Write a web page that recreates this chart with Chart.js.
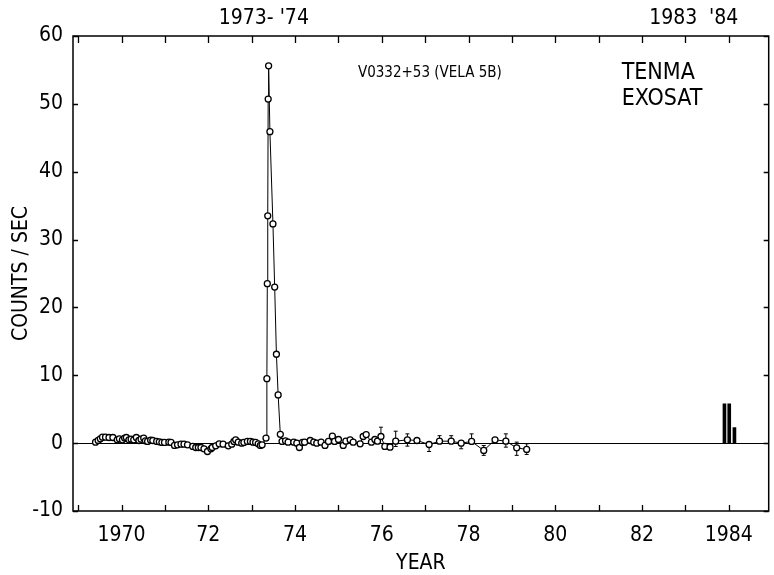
<!DOCTYPE html>
<html>
<head>
<meta charset="utf-8">
<script src="https://cdn.jsdelivr.net/npm/chart.js@4.4.0/dist/chart.umd.min.js"></script>
<style>
  html, body { margin: 0; padding: 0; background: #fff; }
  #wrap { width: 774px; height: 575px; }
</style>
</head>
<body>
<div id="wrap"><canvas id="lightCurve" width="774" height="575"></canvas></div>
<script>
/* V0332+53 (Vela 5B) light curve, counts/sec vs year */

// Vela 5B monthly points (year, counts/sec)
const years = [
  1969.40, 1969.46, 1969.51, 1969.56, 1969.63, 1969.71, 1969.80, 1969.90, 1969.95, 1970.02,
  1970.07, 1970.11, 1970.17, 1970.22, 1970.28, 1970.34, 1970.40, 1970.45, 1970.51, 1970.55,
  1970.60, 1970.67, 1970.72, 1970.81, 1970.87, 1970.93, 1970.99, 1971.09, 1971.14, 1971.22,
  1971.29, 1971.37, 1971.44, 1971.52, 1971.64, 1971.71, 1971.77, 1971.83, 1971.90, 1971.98,
  1972.06, 1972.09, 1972.17, 1972.25, 1972.34, 1972.46, 1972.54, 1972.59, 1972.63, 1972.69,
  1972.77, 1972.82, 1972.90, 1972.97, 1973.03, 1973.09, 1973.15, 1973.20, 1973.24, 1973.33,
  1973.35, 1973.36, 1973.37, 1973.38, 1973.39, 1973.42, 1973.49, 1973.53, 1973.57, 1973.61,
  1973.66, 1973.70, 1973.78, 1973.84, 1973.97, 1974.04, 1974.10, 1974.17, 1974.22, 1974.35,
  1974.43, 1974.50, 1974.60, 1974.69, 1974.77, 1974.86, 1974.91, 1975.00, 1975.11, 1975.17,
  1975.27, 1975.34, 1975.50, 1975.57, 1975.64, 1975.76, 1975.84, 1975.90, 1975.98, 1976.07,
  1976.19, 1976.32, 1976.59, 1976.81, 1977.09, 1977.33, 1977.60, 1977.83, 1978.07, 1978.35,
  1978.61, 1978.86, 1979.11, 1979.34
];
const counts = [
  0.15, 0.40, 0.64, 0.88, 0.88, 0.83, 0.83, 0.49, 0.64, 0.49,
  0.74, 0.83, 0.49, 0.59, 0.49, 0.83, 0.39, 0.59, 0.74, 0.34,
  0.25, 0.44, 0.39, 0.25, 0.20, 0.10, 0.10, 0.15, 0.10, -0.34,
  -0.25, -0.15, -0.15, -0.25, -0.49, -0.64, -0.64, -0.64, -0.83, -1.23,
  -0.83, -0.64, -0.39, -0.10, -0.15, -0.39, -0.15, 0.25, 0.49, 0.15,
  0.00, 0.10, 0.25, 0.25, 0.15, 0.10, -0.10, -0.34, -0.25, 0.74,
  9.5, 23.5, 33.5, 50.7, 55.6, 45.9, 32.3, 23.0, 13.1, 7.1,
  1.3, 0.25, 0.34, 0.15, 0.15, 0.00, -0.64, 0.10, 0.15, 0.39,
  0.15, 0.00, 0.15, -0.34, 0.25, 1.03, 0.25, 0.54, -0.34, 0.29,
  0.49, 0.15, -0.10, 0.98, 1.27, 0.15, 0.54, 0.29, 0.98, -0.49,
  -0.59, 0.29, 0.49, 0.39, -0.20, 0.29, 0.29, 0.00, 0.25, -1.08,
  0.49, 0.29, -0.69, -0.93
];

// error bars on the later points
const errYears = [1975.98, 1976.32, 1976.59, 1977.09, 1977.33, 1977.60, 1977.83, 1978.07, 1978.35, 1978.86, 1979.11, 1979.34];
const errLow   = [0.98, -0.49, -0.44, -1.23, 0.29, 0.29, -0.83, 0.25, -1.80, -0.59, -1.80, -1.67];
const errHigh  = [2.35, 1.76, 1.37, -0.20, 1.10, 1.10, 0.00, 1.37, -0.35, 1.37, 0.15, -0.10];

// Tenma / Exosat 1983-84 measurements
const tenmaYears  = [1983.90, 1984.01, 1984.13];
const tenmaCounts = [5.8, 5.8, 2.3];

// axis ticks
const yearTicks = [1969, 1970, 1971, 1972, 1973, 1974, 1975, 1976, 1977, 1978, 1979, 1980, 1981, 1982, 1983, 1984];
const yearLabels = ['', '1970', '', '72', '', '74', '', '76', '', '78', '', '80', '', '82', '', '1984'];
const topTickYears  = [1973.28, 1982.72, 1983.88];
const topTickLabels = ["1973- '74", '1983', "'84"];

const X_MIN = 1968.88;
const X_MAX = 1984.92;

const FONT = "'DejaVu Sans Condensed', 'Liberation Sans Narrow', 'DejaVu Sans', sans-serif";

const framePlugin = {
  id: 'frame',
  beforeDatasetsDraw(chart) {
    const { ctx, scales: { x, y } } = chart;
    ctx.save();
    ctx.strokeStyle = '#000';
    ctx.lineWidth = 1;
    ctx.beginPath();
    errYears.forEach((yr, i) => {
      const px = x.getPixelForValue(yr);
      const lo = y.getPixelForValue(errLow[i]);
      const hi = y.getPixelForValue(errHigh[i]);
      ctx.moveTo(px, lo);
      ctx.lineTo(px, hi);
      ctx.moveTo(px - 2, hi);
      ctx.lineTo(px + 2, hi);
      ctx.moveTo(px - 2, lo);
      ctx.lineTo(px + 2, lo);
    });
    ctx.stroke();
    ctx.restore();
  },
  afterDraw(chart) {
    const { ctx, chartArea: a, scales: { x, y } } = chart;
    ctx.save();
    ctx.strokeStyle = '#000';
    ctx.lineWidth = 1.5;
    ctx.strokeRect(a.left, a.top, a.right - a.left, a.bottom - a.top);

    // inward tick marks on all four sides
    ctx.lineWidth = 1.3;
    ctx.beginPath();
    x.ticks.forEach((t) => {
      const px = Math.round(x.getPixelForValue(t.value)) + 0.5;
      ctx.moveTo(px, a.bottom);
      ctx.lineTo(px, a.bottom - 6);
      ctx.moveTo(px, a.top);
      ctx.lineTo(px, a.top + 7);
    });
    y.ticks.forEach((t) => {
      const py = Math.round(y.getPixelForValue(t.value)) + 0.5;
      ctx.moveTo(a.left, py);
      ctx.lineTo(a.left + 5, py);
      ctx.moveTo(a.right, py);
      ctx.lineTo(a.right - 5, py);
    });
    ctx.stroke();

    // annotations
    ctx.fillStyle = '#000';
    ctx.textBaseline = 'middle';
    ctx.textAlign = 'left';
    ctx.font = '15px ' + FONT;
    ctx.fillText('V0332+53 (VELA 5B)', x.getPixelForValue(1975.45), y.getPixelForValue(54.6));
    ctx.font = '23px ' + FONT;
    ctx.fillText('TENMA', x.getPixelForValue(1981.53), y.getPixelForValue(54.6));
    ctx.fillText('EXOSAT', x.getPixelForValue(1981.53), y.getPixelForValue(50.7));
    ctx.restore();
  }
};

new Chart(document.getElementById('lightCurve'), {
  type: 'scatter',
  data: {
    datasets: [
      {
        type: 'line',
        label: 'Vela 5B',
        data: years.map((yr, i) => ({ x: yr, y: counts[i] })),
        borderColor: '#000',
        borderWidth: 1,
        pointRadius: 3,
        pointBorderWidth: 1.3,
        pointBorderColor: '#000',
        pointBackgroundColor: '#fff',
        showLine: true,
        tension: 0,
        fill: false
      },
      {
        type: 'bar',
        label: 'Tenma / Exosat',
        data: tenmaYears.map((yr, i) => ({ x: yr, y: tenmaCounts[i] })),
        backgroundColor: '#000',
        barThickness: 3
      }
    ]
  },
  options: {
    responsive: false,
    animation: false,
    layout: { padding: { left: 0, right: 1, top: 0, bottom: 0 } },
    plugins: {
      legend: { display: false },
      tooltip: { enabled: false }
    },
    scales: {
      x: {
        type: 'linear',
        position: 'bottom',
        offset: false,
        min: X_MIN,
        max: X_MAX,
        afterBuildTicks: (s) => { s.ticks = yearTicks.map((v) => ({ value: v })); },
        afterFit: (s) => { s.height = 64; },
        grid: { display: false, drawTicks: false, offset: false },
        border: { display: false },
        ticks: {
          autoSkip: false,
          maxRotation: 0,
          padding: 12,
          color: '#000',
          font: { family: FONT, size: 21 },
          callback: (v, i) => yearLabels[i]
        },
        title: {
          display: true,
          text: 'YEAR',
          color: '#000',
          font: { family: FONT, size: 21, lineHeight: 1.1 },
          padding: { top: 0, bottom: 0 }
        }
      },
      x2: {
        type: 'linear',
        position: 'top',
        offset: false,
        min: X_MIN,
        max: X_MAX,
        afterBuildTicks: (s) => { s.ticks = topTickYears.map((v) => ({ value: v })); },
        afterFit: (s) => { s.height = 36; },
        grid: { display: false, drawTicks: false },
        border: { display: false },
        ticks: {
          autoSkip: false,
          maxRotation: 0,
          padding: 5,
          color: '#000',
          font: { family: FONT, size: 21 },
          callback: (v, i) => topTickLabels[i]
        }
      },
      y: {
        type: 'linear',
        min: -10,
        max: 60,
        afterFit: (s) => { s.width = 73; },
        grid: {
          drawTicks: false,
          lineWidth: 1,
          color: (c) => (c.tick && c.tick.value === 0 ? '#000' : 'rgba(0,0,0,0)')
        },
        border: { display: false },
        ticks: {
          stepSize: 10,
          padding: 10,
          color: '#000',
          font: { family: FONT, size: 21 }
        },
        title: {
          display: true,
          text: 'COUNTS / SEC',
          color: '#000',
          font: { family: FONT, size: 21, lineHeight: 1.2 },
          padding: { top: 9, bottom: 0 }
        }
      }
    }
  },
  plugins: [framePlugin]
});
</script>
</body>
</html>
